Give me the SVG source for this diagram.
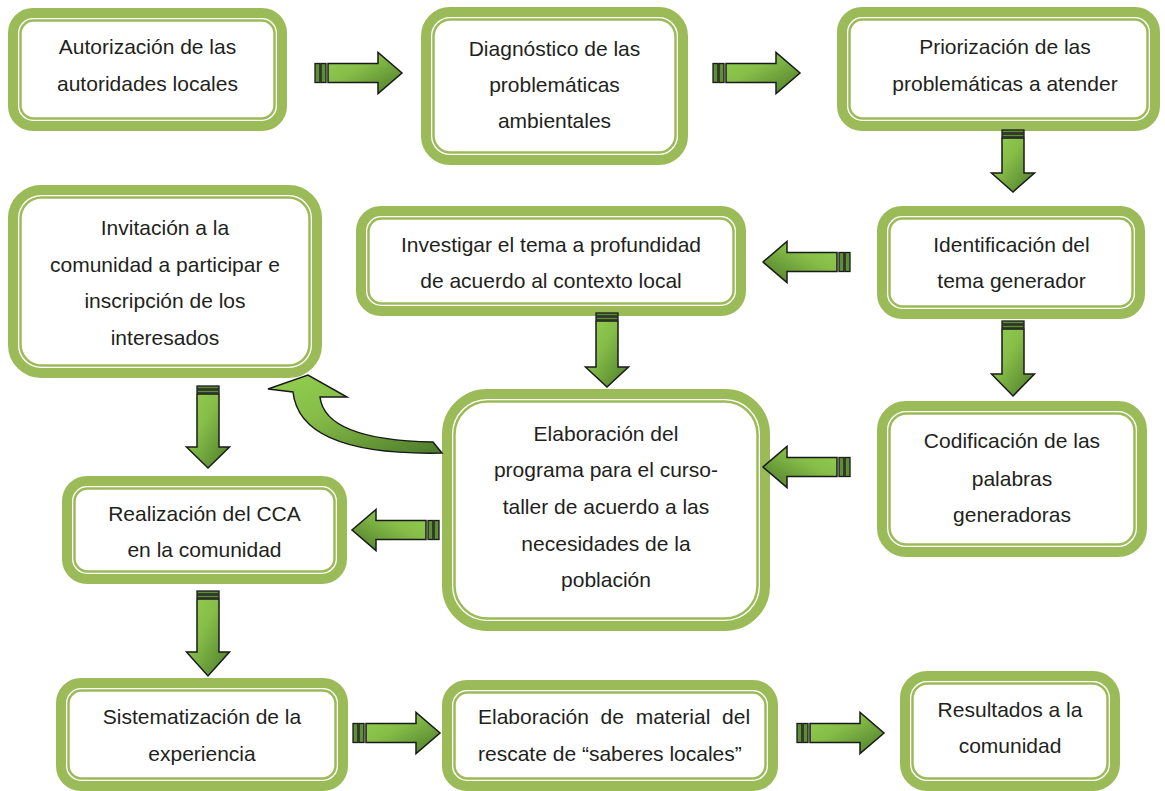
<svg xmlns="http://www.w3.org/2000/svg" xmlns:xlink="http://www.w3.org/1999/xlink" width="1165" height="791" viewBox="0 0 1165 791">
<style>
.o{fill:#fff;stroke:#9bbb59;stroke-width:10}
.i{fill:none;stroke:#9bbb59;stroke-width:2.5}
.t{font-family:"Liberation Sans",Arial,sans-serif;font-size:21px;fill:#231f20;text-anchor:middle}
.tl{font-family:"Liberation Sans",Arial,sans-serif;font-size:21px;fill:#231f20}
.ab{fill:url(#g);stroke:#1a1a1a;stroke-width:1.5;stroke-linejoin:miter}
.bar{fill:#5e8f36;stroke:#1a1a1a;stroke-width:1.3}
</style>
<defs>
<linearGradient id="g" x1="0" y1="0" x2="1" y2="1">
<stop offset="0" stop-color="#92d050"/>
<stop offset="0.4" stop-color="#86bd48"/>
<stop offset="1" stop-color="#4c7a2a"/>
</linearGradient>
<g id="ra">
<rect class="bar" x="0" y="-9.5" width="5" height="19"/>
<rect class="bar" x="6" y="-9.5" width="5" height="19"/>
<path class="ab" d="M13,-9.5 L63,-9.5 L63,-20.5 L87,0 L63,20.5 L63,9.5 L13,9.5 Z"/>
</g>
</defs>

<g id="n1">
<rect class="o" x="13" y="13" width="269" height="113" rx="20"/>
<rect class="i" x="20.5" y="20.5" width="254" height="98" rx="13"/>
<text class="t" x="147.5" y="54">Autorización de las</text>
<text class="t" x="147.5" y="91">autoridades locales</text>
</g>
<g id="n2">
<rect class="o" x="426" y="12" width="257" height="148" rx="24"/>
<rect class="i" x="433.5" y="19.5" width="242" height="133" rx="17"/>
<text class="t" x="554.5" y="56">Diagnóstico de las</text>
<text class="t" x="554.5" y="92">problemáticas</text>
<text class="t" x="554.5" y="128">ambientales</text>
</g>
<g id="n3">
<rect class="o" x="842" y="12" width="313" height="114" rx="20"/>
<rect class="i" x="849.5" y="19.5" width="298" height="99" rx="13"/>
<text class="t" x="1005" y="54">Priorización de las</text>
<text class="t" x="1005" y="91">problemáticas a atender</text>
</g>
<g id="n4">
<rect class="o" x="13" y="190" width="304" height="183" rx="28"/>
<rect class="i" x="20.5" y="197.5" width="289" height="168" rx="21"/>
<text class="t" x="165" y="235">Invitación a la</text>
<text class="t" x="165" y="272">comunidad a participar e</text>
<text class="t" x="165" y="308">inscripción de los</text>
<text class="t" x="165" y="345">interesados</text>
</g>
<g id="n5">
<rect class="o" x="361" y="211" width="380" height="100" rx="20"/>
<rect class="i" x="368.5" y="218.5" width="365" height="85" rx="13"/>
<text class="t" x="551" y="252">Investigar el tema a profundidad</text>
<text class="t" x="551" y="288">de acuerdo al contexto local</text>
</g>
<g id="n6">
<rect class="o" x="882" y="211" width="258" height="103" rx="20"/>
<rect class="i" x="889.5" y="218.5" width="243" height="88" rx="13"/>
<text class="t" x="1011.5" y="252">Identificación del</text>
<text class="t" x="1011.5" y="288">tema generador</text>
</g>
<g id="n7">
<rect class="o" x="447" y="394" width="318" height="232" rx="40"/>
<rect class="i" x="454.5" y="401.5" width="303" height="217" rx="33"/>
<text class="t" x="606" y="441">Elaboración del</text>
<text class="t" x="606" y="477">programa para el curso-</text>
<text class="t" x="606" y="514">taller de acuerdo a las</text>
<text class="t" x="606" y="551">necesidades de la</text>
<text class="t" x="606" y="587">población</text>
</g>
<g id="n8">
<rect class="o" x="882" y="406" width="260" height="146" rx="24"/>
<rect class="i" x="889.5" y="413.5" width="245" height="131" rx="17"/>
<text class="t" x="1012" y="448">Codificación de las</text>
<text class="t" x="1012" y="486">palabras</text>
<text class="t" x="1012" y="522">generadoras</text>
</g>
<g id="n9">
<rect class="o" x="67" y="481" width="275" height="98" rx="20"/>
<rect class="i" x="74.5" y="488.5" width="260" height="83" rx="13"/>
<text class="t" x="204.5" y="521">Realización del CCA</text>
<text class="t" x="204.5" y="557">en la comunidad</text>
</g>
<g id="n10">
<rect class="o" x="61" y="683" width="282" height="103" rx="20"/>
<rect class="i" x="68.5" y="690.5" width="267" height="88" rx="13"/>
<text class="t" x="202" y="724">Sistematización de la</text>
<text class="t" x="202" y="761">experiencia</text>
</g>
<g id="n11">
<rect class="o" x="447" y="685" width="326" height="101" rx="20"/>
<rect class="i" x="454.5" y="692.5" width="311" height="86" rx="13"/>
<text class="tl" y="724"><tspan x="478">Elaboración</tspan><tspan x="600.6">de</tspan><tspan x="635.7">material</tspan><tspan x="722.1">del</tspan></text>
<text class="tl" x="478" y="761">rescate de “saberes locales”</text>
</g>
<g id="n12">
<rect class="o" x="905" y="676" width="210" height="110" rx="22"/>
<rect class="i" x="912.5" y="683.5" width="195" height="95" rx="15"/>
<text class="t" x="1010" y="717">Resultados a la</text>
<text class="t" x="1010" y="753">comunidad</text>
</g>

<g id="connectors">
<use xlink:href="#ra" x="315" y="73"/>
<use xlink:href="#ra" x="713" y="73"/>
<use xlink:href="#ra" x="353" y="733"/>
<use xlink:href="#ra" x="797" y="733"/>
<use xlink:href="#ra" transform="translate(850,262) scale(-1,1)"/>
<use xlink:href="#ra" transform="translate(850,467) scale(-1,1)"/>
<use xlink:href="#ra" transform="translate(439,530) scale(-1,1)"/>

<g id="d1">
<rect class="bar" x="1002" y="130" width="22" height="3"/>
<rect class="bar" x="1002" y="134" width="22" height="3"/>
<path class="ab" d="M1002,138 L1024,138 L1024,173 L1034.5,173 L1013,192 L991.5,173 L1002,173 Z"/>
</g>
<g id="d2">
<rect class="bar" x="1002" y="321" width="22" height="3"/>
<rect class="bar" x="1002" y="325" width="22" height="3"/>
<path class="ab" d="M1002,329 L1024,329 L1024,374 L1034.5,374 L1013,396 L991.5,374 L1002,374 Z"/>
</g>
<g id="d3">
<rect class="bar" x="596" y="313" width="22" height="3"/>
<rect class="bar" x="596" y="317" width="22" height="3"/>
<path class="ab" d="M596,321 L618,321 L618,367 L628.5,367 L607,387 L585.5,367 L596,367 Z"/>
</g>
<g id="d4">
<rect class="bar" x="197" y="386" width="22" height="3"/>
<rect class="bar" x="197" y="390" width="22" height="3"/>
<path class="ab" d="M197,394 L219,394 L219,447 L229.5,447 L208,468 L186.5,447 L197,447 Z"/>
</g>
<g id="d5">
<rect class="bar" x="197" y="591" width="22" height="3"/>
<rect class="bar" x="197" y="595" width="22" height="3"/>
<path class="ab" d="M197,599 L219,599 L219,652 L229.5,652 L208,676 L186.5,652 L197,652 Z"/>
</g>
<path id="curve" class="ab" d="M268,389 L308,375 L347,397 L320,397 Q325,440 433,442 L442,453 Q300,456 293,392 Z"/>
</g>
</svg>
